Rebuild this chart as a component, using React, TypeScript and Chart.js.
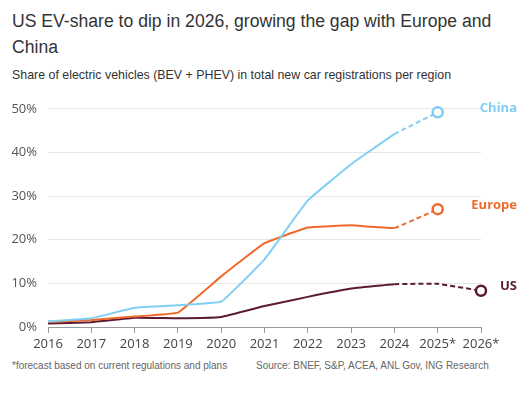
import React, { useEffect, useRef } from "react";
import { Chart, registerables } from "chart.js";

Chart.register(...registerables);

const years = ["2016", "2017", "2018", "2019", "2020", "2021", "2022", "2023", "2024", "2025*", "2026*"];
const chinaShare = [1.3, 2.0, 4.4, 5.0, 5.8, 15.5, 29.0, 37.3, 44.2, 49.2];
const europeShare = [1.2, 1.6, 2.4, 3.3, 11.6, 19.2, 22.8, 23.3, 22.7, 27.0];
const usShare = [0.8, 1.1, 2.1, 2.0, 2.3, 4.8, 6.9, 8.8, 9.8, 9.9, 8.3];
const seriesNames = ["China", "Europe", "US"];
const seriesColors = ["#80cff3", "#f0692c", "#5b1a33"];
const yTicks = [0, 10, 20, 30, 40, 50];
const forecastStart = 8;

export default function App() {
  const ref = useRef<HTMLCanvasElement | null>(null);

  useEffect(() => {
    if (!ref.current) return;
    const mk = (data: number[], i: number) => ({
      label: seriesNames[i],
      data,
      borderColor: seriesColors[i],
      borderWidth: 2,
      tension: 0.08,
      pointRadius: (ctx: any) => (ctx.dataIndex === data.length - 1 ? 5 : 0),
      pointHoverRadius: 0,
      pointBackgroundColor: "#ffffff",
      pointBorderColor: seriesColors[i],
      pointBorderWidth: 2.5,
      clip: false as any,
      segment: {
        borderDash: (ctx: any) => (ctx.p0DataIndex >= forecastStart ? [5, 3] : undefined),
      },
    });

    const endLabels = {
      id: "endLabels",
      afterDatasetsDraw(chart: any) {
        const c = chart.ctx;
        c.save();
        c.font = "bold 13px 'Open Sans', sans-serif";
        c.textAlign = "right";
        c.textBaseline = "middle";
        chart.data.datasets.forEach((ds: any, i: number) => {
          const meta = chart.getDatasetMeta(i);
          const pt = meta.data[meta.data.length - 1];
          c.fillStyle = seriesColors[i];
          c.fillText(seriesNames[i], chart.chartArea.right + 36, pt.y - 4);
        });
        c.restore();
      },
    };

    const chart = new Chart(ref.current, {
      type: "line",
      data: {
        labels: years,
        datasets: [mk(chinaShare, 0), mk(europeShare, 1), mk(usShare, 2)],
      },
      options: {
        animation: false,
        responsive: false,
        layout: { padding: { top: 17, right: 49, left: 0, bottom: 0 } },
        plugins: { legend: { display: false }, tooltip: { enabled: false } },
        scales: {
          x: {
            grid: { drawOnChartArea: false, drawTicks: true, tickLength: 6, color: "#9a9a9a" },
            border: { display: true, color: "#9a9a9a" },
            ticks: {
              color: "#444",
              font: { family: "'Open Sans', sans-serif", size: 13 },
              padding: 3,
              maxRotation: 0,
              autoSkip: false,
            },
            afterFit: (s: any) => {
              s.height = 23;
            },
          },
          y: {
            min: 0,
            max: 50,
            afterBuildTicks: (s: any) => {
              s.ticks = yTicks.map((v) => ({ value: v }));
            },
            grid: { color: "#e6e6e6", drawTicks: false },
            border: { display: false },
            ticks: {
              color: "#555",
              font: { family: "'Open Sans', sans-serif", size: 13 },
              padding: 11,
              callback: (v: any) => v + "%",
            },
            afterFit: (s: any) => {
              s.width = 48;
            },
          },
        },
      },
      plugins: [endLabels],
    });
    return () => chart.destroy();
  }, []);

  return (
    <div
      style={{
        position: "absolute",
        left: 0,
        top: 0,
        width: 530,
        height: 397,
        background: "#fff",
        fontFamily: "'Liberation Sans', Arial, sans-serif",
        overflow: "hidden",
      }}
    >
      <div
        style={{
          position: "absolute",
          left: 12,
          top: 8,
          width: 510,
          fontSize: 17.6,
          lineHeight: "26px",
          color: "#333",
        }}
      >
        US EV-share to dip in 2026, growing the gap with Europe and China
      </div>
      <div style={{ position: "absolute", left: 12, top: 66, fontSize: 12.4, lineHeight: "18px", color: "#333" }}>
        Share of electric vehicles (BEV + PHEV) in total new car registrations per region
      </div>
      <div style={{ position: "absolute", left: 0, top: 90, width: 530, height: 260 }}>
        <canvas ref={ref} width={530} height={260} style={{ width: 530, height: 260, display: "block" }} />
      </div>
      <div style={{ position: "absolute", left: 12, top: 359, fontSize: 10, lineHeight: "14px", color: "#666" }}>
        *forecast based on current regulations and plans
      </div>
      <div style={{ position: "absolute", left: 256, top: 359, fontSize: 10, lineHeight: "14px", color: "#666" }}>
        Source: BNEF, S&amp;P, ACEA, ANL Gov, ING Research
      </div>
    </div>
  );
}
